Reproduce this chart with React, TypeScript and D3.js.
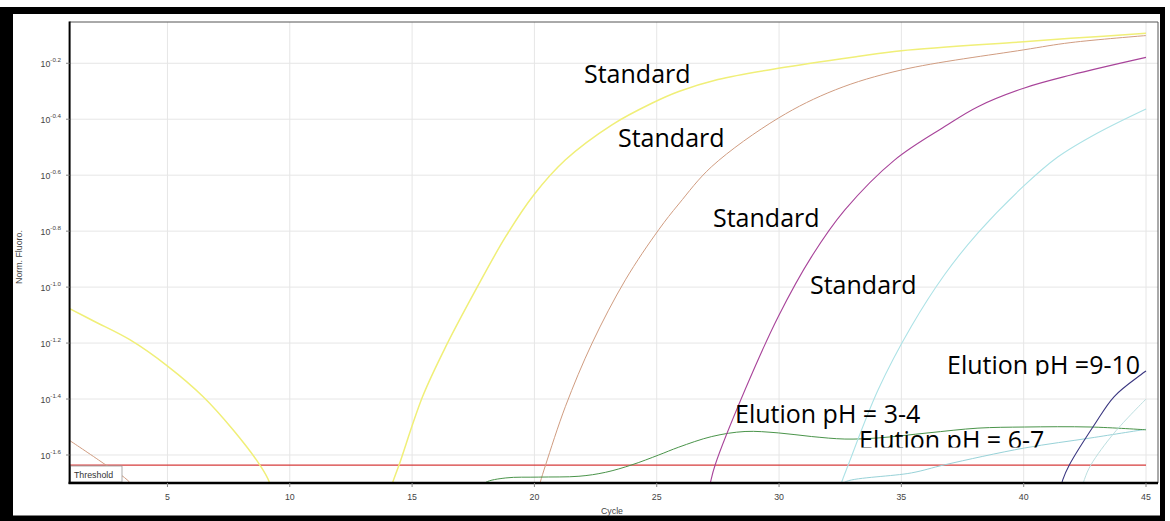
import React from "react";
import * as d3 from "d3";

// ---- Data (cycle, log10 Norm. Fluoro.) ----
const xTicks = [5, 10, 15, 20, 25, 30, 35, 40, 45];
const yTickExponents = [-0.2, -0.4, -0.6, -0.8, -1.0, -1.2, -1.4, -1.6];
const yTickLabels = ["-0.2", "-0.4", "-0.6", "-0.8", "-1.0", "-1.2", "-1.4", "-1.6"];
const thresholdLog = -1.636;

const yellowEarly: [number, number][] = [
  [1, -1.077], [2, -1.122], [3.46, -1.188], [5.03, -1.284], [6.45, -1.391],
  [7.68, -1.51], [8.77, -1.635], [9.17, -1.698], [9.6, -1.85],
];
const yellowLate: [number, number][] = [
  [13.9, -1.8], [14.2, -1.7], [14.47, -1.635], [15.43, -1.391], [16.38, -1.212],
  [17.6, -1.01], [18.83, -0.819], [19.98, -0.67], [21.27, -0.545], [23.17, -0.42],
  [24.8, -0.343], [25.9, -0.301], [27.5, -0.258], [29.97, -0.218], [33.2, -0.176],
  [35, -0.155], [40, -0.123], [41.93, -0.111], [45, -0.093],
];
const brownEarly: [number, number][] = [
  [1, -1.548], [2.37, -1.629], [3.46, -1.698], [3.8, -1.75],
];
const brownLate: [number, number][] = [
  [20.0, -1.78], [20.23, -1.7], [20.46, -1.635], [21.27, -1.426], [22.36, -1.2],
  [23.72, -0.974], [25.08, -0.795], [25.9, -0.703], [27.25, -0.569], [29.97, -0.396],
  [32.3, -0.295], [35, -0.224], [40, -0.152], [41.93, -0.126], [45, -0.101],
];
const magentaLate: [number, number][] = [
  [27.0, -1.78], [27.19, -1.7], [27.39, -1.635], [28.61, -1.367], [29.97, -1.105],
  [31.33, -0.891], [32.69, -0.724], [34.73, -0.545], [36.77, -0.426], [38.13, -0.355],
  [40, -0.289], [41.93, -0.242], [45, -0.179],
];
const cyanLate: [number, number][] = [
  [32.3, -1.78], [32.55, -1.7], [32.83, -1.635], [34.05, -1.367], [35.41, -1.14],
  [36.77, -0.955], [38.13, -0.806], [39.96, -0.642], [41.39, -0.535], [43.02, -0.449],
  [45, -0.363],
];
const navyEarly: [number, number][] = [
  [1, -1.645], [2.2, -1.69], [2.8, -1.705],
];
const navyLate: [number, number][] = [
  [41.3, -1.8], [41.6, -1.688], [41.87, -1.635], [42.89, -1.492], [43.7, -1.391],
  [44.79, -1.313], [45, -1.3],
];
const paleCyanLate: [number, number][] = [
  [42.2, -1.78], [42.48, -1.688], [42.75, -1.635], [43.7, -1.521], [45, -1.4],
];
const tealBaseline: [number, number][] = [
  [32.5, -1.71], [32.76, -1.694], [35.41, -1.664], [36.77, -1.635], [40.03, -1.575],
  [42.75, -1.539], [45, -1.508],
];
const greenCurve: [number, number][] = [
  [17.8, -1.72], [18.01, -1.698], [18.83, -1.682], [20.18, -1.679], [21.82, -1.676],
  [22.9, -1.662], [23.99, -1.635], [25.08, -1.6], [25.9, -1.572], [27.25, -1.534],
  [28.61, -1.516], [29.97, -1.521], [31.33, -1.534], [32.69, -1.543], [34.05, -1.539],
  [36.09, -1.521], [38.13, -1.504], [40.03, -1.5], [42.75, -1.5], [45, -1.51],
];

const annotations = [
  { text: "Standard", x: 584, y: 83 },
  { text: "Standard", x: 618, y: 147 },
  { text: "Standard", x: 713, y: 227 },
  { text: "Standard", x: 810, y: 294 },
  { text: "Elution pH = 3-4", x: 735, y: 423 },
];

const W = 1170;
const H = 521;
const PL = 69.6, PR = 1158, PT = 22, PB = 483;

export default function App() {
  const x = d3.scaleLinear().domain([1, 45.49]).range([PL, PR]);
  const y = d3
    .scaleLog()
    .base(10)
    .domain([Math.pow(10, -1.699), Math.pow(10, -0.0525)])
    .range([482.7, PT]);

  const line = d3
    .line<[number, number]>()
    .x((d) => x(d[0]))
    .y((d) => y(Math.pow(10, d[1])))
    .curve(d3.curveCatmullRom.alpha(0.5));

  const series = [
    { data: yellowEarly, color: "#f0ef78", w: 1.5 },
    { data: yellowLate, color: "#f0ef78", w: 1.5 },
    { data: brownEarly, color: "#d09c80", w: 1.0 },
    { data: brownLate, color: "#d09c80", w: 1.0 },
    { data: navyEarly, color: "#3a3680", w: 1.1 },
    { data: tealBaseline, color: "#98d2d8", w: 1.0 },
    { data: greenCurve, color: "#4a944a", w: 1.0 },
    { data: magentaLate, color: "#a8449a", w: 1.1 },
    { data: cyanLate, color: "#ace2e6", w: 1.1 },
    { data: paleCyanLate, color: "#bcdfe0", w: 1.0 },
    { data: navyLate, color: "#3a3680", w: 1.1 },
  ];

  const tickFont = "'Liberation Sans', Arial, sans-serif";
  const annFont = "'Open Sans', sans-serif";

  return (
    <svg
      width={W}
      height={H}
      style={{ position: "absolute", left: 0, top: 0, background: "#fff" }}
    >
      <defs>
        <clipPath id="plotClip">
          <rect x={PL} y={PT} width={PR - PL} height={PB - PT} />
        </clipPath>
        <clipPath id="clip67">
          <rect x={840} y={400} width={240} height={47.5} />
        </clipPath>
        <clipPath id="clip910">
          <rect x={930} y={330} width={240} height={45.5} />
        </clipPath>
      </defs>

      {/* outer black frame */}
      <rect x={-10} y={7} width={1175} height={530} fill="#000" />
      <rect x={13} y={14} width={1147} height={501.5} fill="#fff" />

      {/* grid */}
      {xTicks.map((t) => (
        <line key={"gx" + t} x1={x(t)} x2={x(t)} y1={PT} y2={PB} stroke="#e6e6e6" strokeWidth={1} />
      ))}
      {yTickExponents.map((e) => (
        <line key={"gy" + e} x1={PL} x2={PR} y1={y(Math.pow(10, e))} y2={y(Math.pow(10, e))} stroke="#e6e6e6" strokeWidth={1} />
      ))}

      {/* threshold */}
      <line
        x1={PL}
        x2={x(45)}
        y1={y(Math.pow(10, thresholdLog))}
        y2={y(Math.pow(10, thresholdLog))}
        stroke="#d63b3b"
        strokeWidth={1.2}
      />

      {/* curves */}
      <g clipPath="url(#plotClip)">
        {series.map((s, i) => (
          <path key={i} d={line(s.data) || ""} fill="none" stroke={s.color} strokeWidth={s.w} />
        ))}
      </g>

      {/* Threshold label */}
      <rect x={70.5} y={466} width={51.5} height={16} fill="#fff" stroke="#999" strokeWidth={0.8} />
      <text x={74} y={477.5} fontFamily={tickFont} fontSize={8.8} fill="#333">
        Threshold
      </text>

      {/* frame of plot */}
      <line x1={PL} x2={PR} y1={PT} y2={PT} stroke="#555" strokeWidth={1} />
      <line x1={PR} x2={PR} y1={PT} y2={PB} stroke="#555" strokeWidth={1} />
      <line x1={PL} x2={PL} y1={PT - 0.5} y2={PB + 1} stroke="#000" strokeWidth={2} />
      <line x1={PL - 1} x2={PR} y1={PB} y2={PB} stroke="#000" strokeWidth={2.5} />

      {/* y ticks */}
      {yTickExponents.map((e, i) => {
        const yy = y(Math.pow(10, e));
        return (
          <g key={"yt" + e}>
            <line x1={66} x2={PL} y1={yy} y2={yy} stroke="#888" strokeWidth={1} />
            <text x={61} y={yy + 3.6} textAnchor="end" fontFamily={tickFont} fontSize={8.8} fill="#444">
              10
              <tspan dy={-4.5} fontSize={6.2}>
                {yTickLabels[i]}
              </tspan>
            </text>
          </g>
        );
      })}

      {/* x ticks */}
      {xTicks.map((t) => (
        <g key={"xt" + t}>
          <line x1={x(t)} x2={x(t)} y1={PB} y2={PB + 4} stroke="#888" strokeWidth={1} />
          <text x={x(t)} y={499.8} textAnchor="middle" fontFamily={tickFont} fontSize={8.8} fill="#444">
            {t}
          </text>
        </g>
      ))}

      {/* axis titles */}
      <text x={612} y={514} textAnchor="middle" fontFamily={tickFont} fontSize={8.8} fill="#444">
        Cycle
      </text>
      <text
        transform="translate(22,257) rotate(-90)"
        textAnchor="middle"
        fontFamily={tickFont}
        fontSize={8.8}
        fill="#444"
      >
        Norm. Fluoro.
      </text>

      {/* annotations */}
      {annotations.map((a, i) => (
        <text key={"an" + i} x={a.x} y={a.y} fontFamily={annFont} fontSize={25} fill="#000">
          {a.text}
        </text>
      ))}
      <g clipPath="url(#clip67)">
        <text x={859} y={448.5} fontFamily={annFont} fontSize={25} fill="#000">
          Elution pH = 6-7
        </text>
      </g>
      <g clipPath="url(#clip910)">
        <text x={947} y={373.5} fontFamily={annFont} fontSize={25} fill="#000">
          Elution pH =9-10
        </text>
      </g>
    </svg>
  );
}
